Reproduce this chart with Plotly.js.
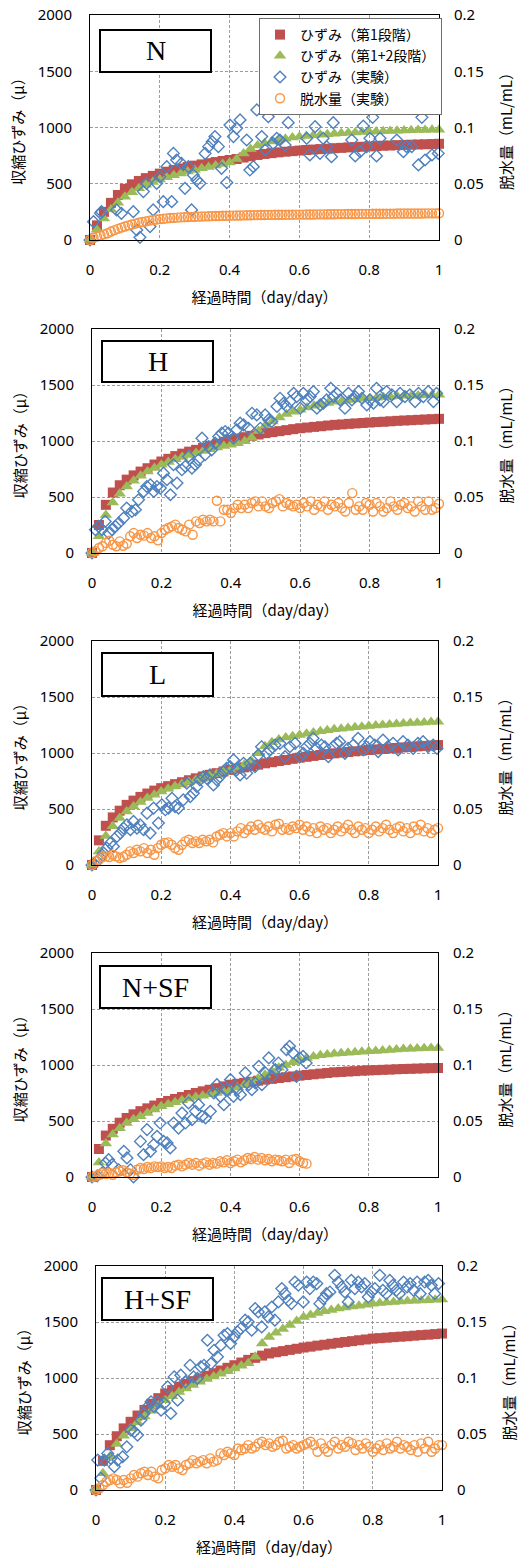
<!DOCTYPE html>
<html>
<head>
<meta charset="utf-8">
<script src="https://cdn.plot.ly/plotly-3.0.1.min.js"></script>
<style>html,body{margin:0;padding:0;background:#fff;}#chart{width:523px;height:1557px;}</style>
</head>
<body>
<div id="chart"></div>
<script>
// ---------- shared time grids (day/day) ----------
const timeModel = [0,0.02,0.04,0.06,0.08,0.1,0.12,0.14,0.16,0.18,0.2,0.22,0.24,0.26,0.28,0.3,0.32,0.34,0.36,0.38,0.4,0.42,0.44,0.46,0.48,0.5,0.52,0.54,0.56,0.58,0.6,0.62,0.64,0.66,0.68,0.7,0.72,0.74,0.76,0.78,0.8,0.82,0.84,0.86,0.88,0.9,0.92,0.94,0.96,0.98,1];
const timeDehyd = [0,0.01,0.02,0.03,0.04,0.05,0.06,0.07,0.08,0.09,0.1,0.11,0.12,0.13,0.14,0.15,0.16,0.17,0.18,0.19,0.2,0.21,0.22,0.23,0.24,0.25,0.26,0.27,0.28,0.29,0.3,0.31,0.32,0.33,0.34,0.35,0.36,0.37,0.38,0.39,0.4,0.41,0.42,0.43,0.44,0.45,0.46,0.47,0.48,0.49,0.5,0.51,0.52,0.53,0.54,0.55,0.56,0.57,0.58,0.59,0.6,0.61,0.62,0.63,0.64,0.65,0.66,0.67,0.68,0.69,0.7,0.71,0.72,0.73,0.74,0.75,0.76,0.77,0.78,0.79,0.8,0.81,0.82,0.83,0.84,0.85,0.86,0.87,0.88,0.89,0.9,0.91,0.92,0.93,0.94,0.95,0.96,0.97,0.98,0.99,1];

const panelLabels = ["N","H","L","N+SF","H+SF"];
const seriesNames = ["ひずみ（第1段階）","ひずみ（第1+2段階）","ひずみ（実験）","脱水量（実験）"];

// ---------- N ----------
const stage1_N = [0,130,250,330,400,455,495,525,550,570,590,607,622,636,649,661,672,683,693,702,711,720,733,745,756,765,772,779,785,790,795,800,804,808,812,816,819,823,826,829,832,835,838,840,843,845,847,849,851,853,855];
const stage12_N = [0,90,190,270,330,385,425,460,490,515,537,557,575,592,608,623,637,650,663,675,690,720,770,810,840,860,875,888,900,910,918,925,931,936,941,945,949,953,956,959,962,965,967,969,971,973,975,977,978,980,981];
const expT_N = [0,0.01,0.03,0.033,0.076,0.09,0.124,0.134,0.143,0.153,0.162,0.172,0.181,0.191,0.2,0.21,0.22,0.234,0.239,0.248,0.262,0.272,0.282,0.291,0.296,0.306,0.315,0.33,0.34,0.35,0.358,0.368,0.377,0.392,0.401,0.411,0.42,0.43,0.449,0.458,0.468,0.478,0.492,0.502,0.511,0.525,0.535,0.544,0.559,0.568,0.578,0.621,0.63,0.645,0.659,0.668,0.678,0.692,0.697,0.712,0.75,0.76,0.774,0.783,0.793,0.802,0.81,0.821,0.831,0.84,0.879,0.898,0.907,0.922,0.932,0.941,0.951,0.96,0.98,0.998];
const expStrain_N = [0,163,237,252,267,237,252,89,24,430,504,119,267,504,563,341,652,341,770,711,681,459,652,267,578,533,504,770,830,874,919,830,637,510,1022,919,993,1067,889,622,652,1156,919,800,1096,859,904,889,844,1043,1170,904,756,1007,770,904,830,741,1043,1191,889,747,785,1013,830,904,1090,747,904,1191,889,785,830,830,1179,667,1090,711,756,770];
const dehyd_N = [0,0.002,0.003,0.004,0.005,0.006,0.0075,0.0088,0.0099,0.011,0.012,0.013,0.0138,0.0146,0.0153,0.016,0.0166,0.0172,0.0177,0.0182,0.0186,0.0189,0.0192,0.0195,0.0197,0.0199,0.0201,0.0203,0.0204,0.0206,0.0207,0.0208,0.0209,0.021,0.0211,0.0212,0.0213,0.0214,0.0215,0.0216,0.0217,0.0217,0.0218,0.0218,0.0219,0.022,0.022,0.0221,0.0221,0.0222,0.0222,0.0223,0.0223,0.0224,0.0224,0.0224,0.0225,0.0225,0.0225,0.0226,0.0226,0.0226,0.0227,0.0227,0.0227,0.0228,0.0228,0.0228,0.0229,0.0229,0.0229,0.023,0.023,0.023,0.0231,0.0231,0.0231,0.0232,0.0232,0.0232,0.0232,0.0233,0.0233,0.0233,0.0234,0.0234,0.0234,0.0234,0.0235,0.0235,0.0235,0.0235,0.0236,0.0236,0.0236,0.0236,0.0237,0.0237,0.0237,0.0237,0.0238];

// ---------- H ----------
const stage1_H = [0,250,430,540,605,655,693,727,757,790,817,841,865,887,905,921,939,957,975,993,1010,1022,1034,1046,1058,1070,1079,1088,1097,1106,1114,1120,1126,1132,1138,1144,1148,1153,1157,1161,1165,1169,1172,1176,1180,1183,1186,1189,1192,1195,1198];
const stage12_H = [0,150,340,450,530,594,645,690,728,760,788,812,836,857,875,892,910,927,942,955,966,980,998,1030,1090,1140,1175,1210,1240,1262,1280,1298,1315,1328,1340,1350,1358,1365,1371,1377,1382,1387,1391,1395,1399,1403,1405,1407,1409,1411,1412];
const expT_H = [0,0.01,0.019,0.029,0.038,0.048,0.058,0.067,0.077,0.091,0.1,0.115,0.125,0.134,0.149,0.158,0.168,0.178,0.187,0.197,0.206,0.216,0.226,0.235,0.245,0.259,0.269,0.278,0.288,0.298,0.307,0.317,0.326,0.336,0.345,0.355,0.365,0.374,0.384,0.393,0.408,0.417,0.427,0.437,0.451,0.461,0.475,0.485,0.499,0.509,0.518,0.533,0.542,0.552,0.561,0.571,0.581,0.59,0.6,0.609,0.619,0.629,0.638,0.648,0.658,0.667,0.676,0.688,0.696,0.705,0.715,0.729,0.739,0.749,0.758,0.768,0.778,0.792,0.801,0.811,0.82,0.83,0.84,0.849,0.864,0.878,0.888,0.902,0.916,0.931,0.941,0.955,0.969,0.984,0.993];
const expStrain_H = [0,208,238,208,282,178,208,238,267,312,401,371,386,475,550,594,609,550,594,580,713,654,520,788,624,743,773,862,758,788,832,1025,877,951,921,981,1040,1070,1085,1070,1025,1100,1159,1144,1114,1248,1233,1114,1233,1189,1174,1308,1382,1337,1308,1352,1426,1397,1293,1426,1367,1397,1441,1293,1322,1337,1367,1471,1397,1426,1367,1293,1426,1367,1397,1441,1382,1322,1367,1337,1471,1367,1352,1441,1412,1352,1426,1397,1412,1352,1426,1397,1441,1352,1426];
const dehyd_H = [0,0.0015,0.0045,0.006,0.009,0.011,0.0074,0.006,0.0104,0.0065,0.0083,0.0149,0.0178,0.0134,0.0163,0.0155,0.0178,0.0134,0.0149,0.0113,0.0178,0.0208,0.0223,0.0238,0.0253,0.0223,0.0208,0.0193,0.0253,0.0163,0.0282,0.0267,0.0297,0.0282,0.0297,0.0282,0.0467,0.0282,0.0386,0.0386,0.0357,0.0401,0.0431,0.0401,0.0431,0.0401,0.0446,0.0461,0.0416,0.0461,0.0416,0.0401,0.0446,0.0461,0.0481,0.0416,0.0446,0.0431,0.0416,0.0431,0.0401,0.0446,0.0416,0.0461,0.0386,0.0431,0.0416,0.0461,0.0386,0.0431,0.0416,0.0446,0.0401,0.0371,0.0446,0.0535,0.0386,0.0416,0.0386,0.0446,0.0431,0.0371,0.0446,0.0416,0.0371,0.0401,0.0461,0.0416,0.0386,0.0431,0.0446,0.0401,0.0416,0.0371,0.0461,0.0416,0.0386,0.0461,0.0386,0.0401,0.044];

// ---------- L ----------
const stage1_L = [0,220,350,425,485,537,575,608,638,664,686,704,722,739,757,774,790,805,820,835,849,861,872,884,896,908,918,928,938,948,958,966,974,982,990,997,1003,1009,1015,1021,1027,1032,1036,1041,1045,1050,1054,1059,1063,1067,1071];
const stage12_L = [0,120,260,345,420,478,522,563,598,628,656,680,703,724,742,760,778,795,813,831,849,870,895,930,997,1060,1095,1120,1138,1150,1160,1172,1184,1194,1203,1211,1217,1223,1229,1235,1240,1245,1250,1255,1260,1264,1267,1270,1273,1276,1279];
const expT_L = [0,0.014,0.024,0.034,0.043,0.053,0.062,0.072,0.082,0.091,0.101,0.111,0.12,0.13,0.139,0.149,0.159,0.168,0.178,0.192,0.202,0.212,0.221,0.231,0.24,0.25,0.264,0.274,0.284,0.293,0.303,0.312,0.322,0.332,0.341,0.351,0.361,0.37,0.38,0.389,0.399,0.409,0.418,0.428,0.438,0.447,0.457,0.471,0.481,0.49,0.505,0.514,0.529,0.543,0.558,0.572,0.587,0.601,0.611,0.62,0.63,0.639,0.649,0.663,0.673,0.683,0.697,0.707,0.716,0.731,0.74,0.755,0.769,0.784,0.793,0.803,0.817,0.827,0.841,0.856,0.87,0.885,0.899,0.913,0.928,0.942,0.957,0.971,0.986,0.997];
const expStrain_L = [0,33,62,107,151,196,166,255,285,329,359,315,389,329,359,315,463,285,508,374,537,493,508,596,522,508,582,730,611,641,700,760,789,774,804,715,760,789,834,863,878,938,849,804,908,819,908,878,982,1056,997,1027,1071,1086,967,1056,1086,967,997,1056,1086,1131,1042,1071,1056,967,1056,1086,1101,997,1042,1071,1131,1027,1056,1101,1071,1012,1116,1056,1086,1027,1101,1071,1042,1086,1101,1056,1071,1042];
const dehyd_L = [0,0.0033,0.0047,0.0071,0.0077,0.0071,0.0092,0.0077,0.0062,0.0071,0.0092,0.0122,0.0107,0.0136,0.0122,0.0151,0.0107,0.0136,0.0092,0.0151,0.0181,0.0196,0.0202,0.0181,0.0151,0.0136,0.0181,0.0211,0.0226,0.0196,0.0211,0.0196,0.0226,0.0211,0.0226,0.0202,0.0255,0.027,0.0285,0.0255,0.0285,0.0255,0.03,0.0329,0.0285,0.0315,0.0344,0.0315,0.0359,0.0329,0.0315,0.0344,0.03,0.0359,0.0368,0.0315,0.0329,0.0315,0.0344,0.0329,0.0359,0.0315,0.0344,0.03,0.0329,0.0285,0.0344,0.0315,0.0329,0.0285,0.0315,0.0344,0.03,0.0329,0.0359,0.0315,0.0285,0.0344,0.0315,0.0329,0.0285,0.0315,0.0344,0.03,0.0329,0.0359,0.0315,0.0285,0.0329,0.0344,0.03,0.0329,0.0285,0.0344,0.0315,0.0359,0.03,0.0329,0.0285,0.0315,0.0329];

// ---------- N+SF ----------
const stage1_NSF = [0,250,370,430,485,527,560,588,613,638,661,679,697,714,732,750,765,779,793,809,824,832,841,850,860,869,876,884,891,898,905,911,917,923,929,935,938,942,945,949,952,954,957,959,962,964,966,968,970,972,973];
const stage12_NSF = [0,130,300,380,435,482,515,543,572,602,631,649,667,685,700,714,726,738,750,765,780,800,822,848,880,914,945,975,1000,1025,1048,1062,1076,1086,1094,1101,1105,1110,1114,1118,1122,1126,1130,1135,1139,1143,1145,1147,1149,1151,1152];
const expT_NSF = [0,0.015,0.029,0.039,0.048,0.058,0.077,0.092,0.101,0.111,0.12,0.14,0.149,0.159,0.169,0.178,0.188,0.197,0.207,0.217,0.226,0.236,0.25,0.26,0.27,0.279,0.289,0.299,0.308,0.318,0.328,0.342,0.352,0.361,0.371,0.381,0.39,0.4,0.409,0.419,0.429,0.443,0.453,0.462,0.472,0.482,0.491,0.501,0.511,0.52,0.53,0.539,0.549,0.562,0.571,0.581,0.591,0.6,0.61,0.619];
const expStrain_NSF = [0,10,36,125,155,110,65,229,170,65,0,318,199,423,229,289,363,482,318,304,259,482,437,571,482,661,512,586,646,542,527,586,750,824,720,646,780,869,720,780,735,929,824,780,839,988,824,929,1063,899,958,1018,958,1137,1167,1107,899,1063,1077,1018];
const dehyd_NSF = [0,0.0006,0.002,0.0036,0.0027,0.0036,0.002,0.0042,0.0051,0.006,0.0042,0.003,0.002,0.0065,0.008,0.0071,0.0089,0.008,0.0095,0.0089,0.0095,0.008,0.0089,0.008,0.0101,0.011,0.0095,0.011,0.0125,0.011,0.0125,0.0101,0.0119,0.0131,0.011,0.0125,0.0119,0.014,0.0131,0.0149,0.0125,0.014,0.0155,0.0131,0.0149,0.017,0.0161,0.0179,0.0155,0.017,0.0149,0.0161,0.014,0.0155,0.0149,0.014,0.0155,0.0125,0.0155,0.0161,0.014,0.0125,0.0119];

// ---------- H+SF ----------
const stage1_HSF = [0,260,400,480,550,609,665,715,770,820,862,892,922,948,972,996,1020,1043,1067,1091,1114,1138,1162,1180,1200,1219,1230,1240,1251,1261,1272,1280,1289,1297,1306,1314,1322,1329,1337,1344,1352,1356,1360,1365,1369,1373,1378,1383,1387,1392,1397];
const stage12_HSF = [0,150,300,410,485,550,605,657,708,755,802,838,874,907,937,966,990,1013,1037,1061,1085,1109,1132,1189,1308,1367,1403,1438,1474,1510,1545,1563,1581,1596,1608,1620,1629,1638,1646,1655,1664,1669,1674,1679,1683,1688,1690,1693,1695,1698,1700];
const expT_HSF = [0,0.005,0.014,0.024,0.034,0.043,0.053,0.063,0.077,0.089,0.101,0.111,0.12,0.13,0.139,0.149,0.159,0.168,0.178,0.188,0.197,0.207,0.216,0.226,0.236,0.245,0.258,0.272,0.282,0.293,0.303,0.312,0.322,0.332,0.341,0.351,0.361,0.37,0.38,0.389,0.399,0.409,0.418,0.431,0.44,0.45,0.46,0.469,0.479,0.488,0.498,0.508,0.517,0.527,0.537,0.546,0.556,0.565,0.575,0.585,0.599,0.609,0.618,0.628,0.638,0.647,0.657,0.666,0.676,0.69,0.7,0.71,0.719,0.729,0.738,0.748,0.758,0.767,0.777,0.787,0.796,0.806,0.82,0.829,0.839,0.849,0.858,0.868,0.877,0.889,0.899,0.908,0.918,0.928,0.937,0.95,0.96,0.969,0.979,0.99];
const expStrain_HSF = [0,267,104,267,327,282,208,267,297,386,535,520,490,624,684,743,788,743,788,713,773,921,684,1010,802,1025,966,1114,1010,996,1100,1114,1337,1129,1248,1189,1293,1382,1397,1308,1367,1412,1441,1516,1501,1427,1620,1590,1456,1590,1545,1634,1516,1679,1798,1753,1694,1664,1857,1828,1679,1857,1798,1857,1843,1664,1709,1753,1768,1917,1857,1813,1768,1679,1872,1798,1857,1813,1843,1724,1768,1798,1917,1783,1753,1872,1828,1783,1753,1857,1813,1843,1783,1857,1753,1857,1872,1828,1753,1843];
const dehyd_HSF = [0,0.0015,0.0045,0.0074,0.0089,0.0104,0.0089,0.0059,0.0089,0.0065,0.0104,0.0134,0.0119,0.0149,0.0163,0.0134,0.0163,0.0119,0.0104,0.0178,0.0193,0.0223,0.0208,0.0223,0.0193,0.0178,0.0223,0.0238,0.0267,0.0238,0.0253,0.0267,0.0238,0.0282,0.0253,0.0267,0.0327,0.0312,0.0342,0.0327,0.0312,0.0371,0.0357,0.0371,0.0401,0.0371,0.0386,0.0416,0.0431,0.0401,0.0416,0.0386,0.0401,0.0431,0.044,0.0371,0.0386,0.0401,0.0371,0.0386,0.0401,0.0416,0.0431,0.0401,0.0342,0.0416,0.0371,0.0342,0.0401,0.0431,0.0371,0.0401,0.0386,0.0431,0.0416,0.0357,0.0401,0.0371,0.0416,0.0386,0.0342,0.0371,0.0401,0.0357,0.0416,0.0371,0.0386,0.0431,0.0371,0.0401,0.0386,0.0357,0.0401,0.0342,0.0416,0.0371,0.0431,0.0342,0.0371,0.0401,0.0401];

// ---------- styling ----------
const W = 523, H = 1557;
const colStage1 = '#C0504D', colStage12 = '#9BBB59', colExp = '#4F81BD', colDehyd = '#F79646';
const jpFont = '"Noto Sans CJK JP", "Noto Sans", sans-serif';
const numFont = '"Noto Sans", "DejaVu Sans", sans-serif';
// plot area boxes in pixels: [left, right, top, bottom]
const boxes = [[90,439,15,240],[92,439,329,553],[92,438,641,865],[92,438,953,1177],[96,442,1266,1490]];
const labelBoxes = [[100,211,30,72],[102,213,341,382],[102,213,653,696],[100,211,966,1008],[102,213,1278,1320]];

const panelData = [
  {s1: stage1_N, s12: stage12_N, et: expT_N, es: expStrain_N, dh: dehyd_N},
  {s1: stage1_H, s12: stage12_H, et: expT_H, es: expStrain_H, dh: dehyd_H},
  {s1: stage1_L, s12: stage12_L, et: expT_L, es: expStrain_L, dh: dehyd_L},
  {s1: stage1_NSF, s12: stage12_NSF, et: expT_NSF, es: expStrain_NSF, dh: dehyd_NSF},
  {s1: stage1_HSF, s12: stage12_HSF, et: expT_HSF, es: expStrain_HSF, dh: dehyd_HSF}
];

const traces = [];
const layout = {
  width: W, height: H,
  margin: {l:0, r:0, t:0, b:0},
  paper_bgcolor: '#fff', plot_bgcolor: '#fff',
  showlegend: true,
  legend: {x: 259/W, y: 1-18/H, xanchor:'left', yanchor:'top', bgcolor:'#fff',
           bordercolor:'#6e6e6e', borderwidth:1, font:{family: jpFont, size:14, color:'#000'},
           tracegroupgap:0, itemwidth:30},
  shapes: [], annotations: []
};

panelData.forEach((p, i) => {
  const xk = i === 0 ? 'x' : 'x' + (i+1);
  const yL = 'y' + (i === 0 ? '' : (2*i+1));
  const yR = 'y' + (2*i+2);
  const [l, r, t, b] = boxes[i];
  const xd = [l/W, r/W], yd = [1-b/H, 1-t/H];
  const xaName = i === 0 ? 'xaxis' : 'xaxis' + (i+1);
  const yLName = i === 0 ? 'yaxis' : 'yaxis' + (2*i+1);
  const yRName = 'yaxis' + (2*i+2);
  const gridStyle = {showgrid:true, gridcolor:'#9c9c9c', griddash:'3px,2px', gridwidth:1};
  layout[xaName] = Object.assign({domain: xd, anchor: yL, range:[0,1], dtick:0.2, tick0:0,
    showline:true, linecolor:'#000', linewidth:1, mirror:true, zeroline:false, ticks:'',
    ticklabelstandoff: 16, tickfont:{family:numFont, size:15, color:'#000'},
    title:{text:'経過時間（day/day）', font:{family:jpFont, size:15, color:'#000'}, standoff:14}}, gridStyle);
  layout[yLName] = Object.assign({domain: yd, anchor: xk, range:[0,2000], dtick:500, tick0:0,
    showline:true, linecolor:'#000', linewidth:1, mirror:true, zeroline:false, ticks:'',
    ticklabelstandoff: 14, tickfont:{family:numFont, size:15, color:'#000'},
    title:{text:'収縮ひずみ（μ）', font:{family:jpFont, size:15, color:'#000'}, standoff:9}}, gridStyle);
  layout[yRName] = {overlaying: yL, side:'right', anchor: xk, range:[0,0.2], dtick:0.05, tick0:0,
    showgrid:false, showline:false, zeroline:false, ticks:'',
    ticklabelstandoff: 14, tickfont:{family:numFont, size:15, color:'#000'},
    title:{text:'脱水量（mL/mL）', font:{family:jpFont, size:15, color:'#000'}, standoff:18}};

  const leg = i === 0;
  traces.push({type:'scatter', mode:'markers', x: timeModel, y: p.s1, xaxis: xk, yaxis: yL,
    name: seriesNames[0], showlegend: leg, legendgroup:'a', cliponaxis:false,
    marker:{symbol:'square', size:10, color: colStage1}});
  traces.push({type:'scatter', mode:'markers', x: timeModel, y: p.s12, xaxis: xk, yaxis: yL,
    name: seriesNames[1], showlegend: leg, legendgroup:'b', cliponaxis:false,
    marker:{symbol:'triangle-up', size:11, color: colStage12}});
  traces.push({type:'scatter', mode:'markers', x: p.et, y: p.es, xaxis: xk, yaxis: yL,
    name: seriesNames[2], showlegend: leg, legendgroup:'c', cliponaxis:false,
    marker:{symbol:'diamond-open', size:9, color: colExp, line:{width:1.4, color: colExp}}});
  traces.push({type:'scatter', mode:'markers', x: timeDehyd.slice(0, p.dh.length), y: p.dh, xaxis: xk, yaxis: yR,
    name: seriesNames[3], showlegend: leg, legendgroup:'d', cliponaxis:false,
    marker:{symbol:'circle-open', size:9, color: colDehyd, line:{width:1.4, color: colDehyd}}});

  const [bl, br, bt, bb] = labelBoxes[i];
  layout.shapes.push({type:'rect', xref:'paper', yref:'paper', x0: bl/W, x1: br/W, y0: 1-bb/H, y1: 1-bt/H,
    line:{color:'#000', width:2}, fillcolor:'#fff', layer:'above'});
  layout.annotations.push({xref:'paper', yref:'paper', x: (bl+br)/2/W, y: 1-(bt+bb)/2/H,
    xanchor:'center', yanchor:'middle', showarrow:false, text: panelLabels[i],
    font:{family:'"Liberation Serif", "Times New Roman", serif', size:28, color:'#000'}});
});

Plotly.newPlot('chart', traces, layout, {staticPlot:true, displayModeBar:false});
</script>
</body>
</html>
